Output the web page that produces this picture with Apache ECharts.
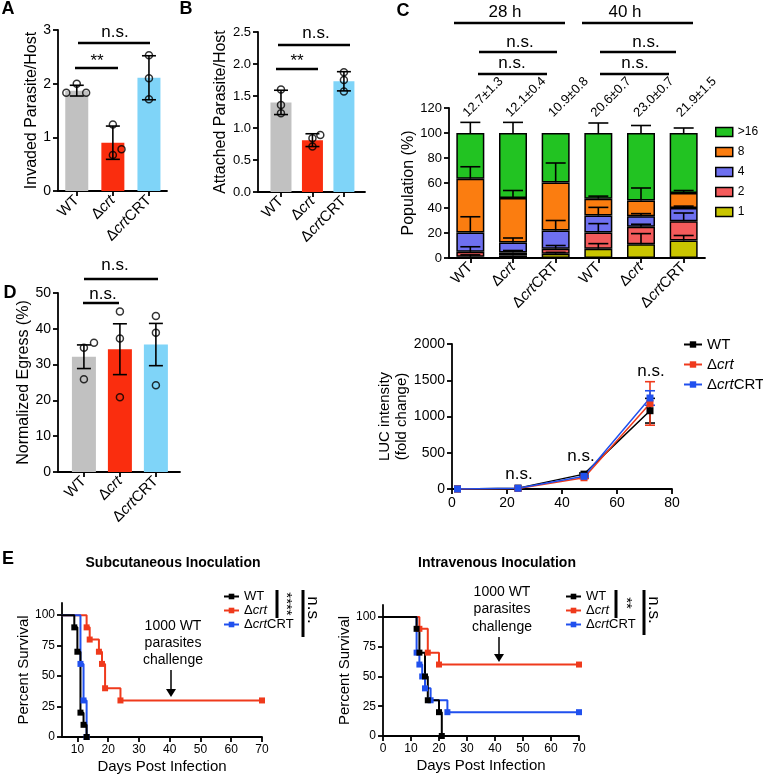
<!DOCTYPE html>
<html><head><meta charset="utf-8">
<script src="https://cdn.jsdelivr.net/npm/echarts@6/dist/echarts.min.js"></script>
<style>html,body{margin:0;padding:0;background:#fff}#c{width:763px;height:779px}</style>
</head><body><div id="c"></div><script>
const FONT = '"Liberation Sans", Arial, Helvetica, sans-serif';

// ---------------- DATA ----------------
const groups = ['WT', 'Δcrt', 'ΔcrtCRT'];
// A: invaded parasite/host
const invadedMean = [1.87, 0.90, 2.11];
const invadedSD = [0.10, 0.31, 0.41];
const invadedPts = [[1.83, 2.00, 1.83], [1.24, 0.78, 0.67], [2.53, 2.10, 1.71]];
// B: attached parasite/host
const attachedMean = [1.40, 0.81, 1.73];
const attachedSD = [0.19, 0.10, 0.15];
const attachedPts = [[1.60, 1.36, 1.23], [0.84, 0.89, 0.71], [1.87, 1.75, 1.57]];
// D: normalized egress (%)
const egressMean = [32.2, 34.3, 35.6];
const egressSEM = [3.3, 7.1, 5.9];
const egressPts = [[36.1, 34.7, 25.9], [44.8, 37.3, 20.9], [43.6, 38.9, 24.2]];
// point jitter (in category units)
const jitterA = [[-0.29, 0, 0.26], [0, 0.24, 0], [0, 0, 0]];
const jitterB = [[0, 0, 0], [0, 0.25, 0], [0, 0, 0]];
const jitterD = [[0.28, 0, 0], [0, 0, 0], [0, 0, 0]];

// C: population (%) stacked, 28 h (first 3) and 40 h (last 3)
const cCats = ['WT', 'Δcrt', 'ΔcrtCRT', 'WT', 'Δcrt', 'ΔcrtCRT'];
const cSeriesNames = ['1', '2', '4', '8', '>16'];
const pop1 = [1.0, 2.0, 3.5, 7.5, 11.0, 14.0];
const pop2 = [4.0, 2.5, 4.0, 13.0, 14.0, 15.5];
const pop4 = [15.5, 8.0, 14.5, 13.5, 8.5, 10.5];
const pop8 = [43.0, 35.5, 38.5, 13.5, 12.5, 12.0];
const pop16 = [36.5, 52.0, 39.5, 52.5, 54.0, 48.0];
const err1 = [1.5, 1.0, 1.0, 4.0, 8.5, 4.0];
const err2 = [4.0, 1.5, 2.5, 7.0, 2.0, 6.5];
const err4 = [12.5, 3.5, 8.0, 6.5, 2.0, 1.5];
const err8 = [9.5, 6.0, 15.5, 2.0, 10.0, 2.0];
const err16 = [8.5, 8.5, 0, 8.0, 6.0, 4.0];
const cLabels = ['12.7±1.3', '12.1±0.4', '10.9±0.8', '20.6±0.7', '23.0±0.7', '21.9±1.5'];

// LUC intensity (fold change)
const lucHours = [2, 24, 48, 72];
const lucWT = [1, 12, 205, 1080];
const lucCrt = [1, 8, 155, 1180];
const lucCRT = [1, 10, 175, 1255];
const lucWTErr = [0, 0, 15, 170];
const lucCrtErr = [0, 0, 10, 300];
const lucCRTErr = [0, 0, 10, 100];

// E: survival (day, percent survival)
const subWT = [[0, 100], [9, 90], [10, 70], [11, 20], [12, 10], [13, 0]];
const subCrt = [[0, 100], [13, 90], [14, 80], [17, 70], [18, 60], [19, 40], [24, 30], [70, 30]];
const subCRT = [[0, 100], [11, 60], [12, 30], [13, 0]];
const ivWT = [[0, 100], [12, 90], [13, 70], [15, 50], [16, 30], [20, 20], [21, 0]];
const ivCrt = [[0, 100], [13, 90], [16, 70], [20, 60], [70, 60]];
const ivCRT = [[0, 100], [12, 70], [13, 60], [14, 50], [15, 40], [17, 30], [23, 20], [70, 20]];
const survivalTicks = [0, 25, 50, 75, 100];
const subDayTicks = [10, 20, 30, 40, 50, 60, 70];

// ---------------- STYLE ----------------
const barColors = ['#c1c1c1', '#fa2d0e', '#7fd4f8'];
const stackColors = ['#c9c500', '#f45b5b', '#6e70f0', '#fb7d10', '#22c322'];
const lineColors = {'WT': '#000000', 'Δcrt': '#ef3a1c', 'ΔcrtCRT': '#2050ee'};

const richName = s => s.replace('crt', '{i|crt}');
const richI = fs => ({i: {fontStyle: 'italic', fontSize: fs, fontFamily: FONT, color: '#000'}});
const axisLineStyle = {color: '#000', width: 1.8};
function mkAxis(o) {
  const base = {
    axisLine: {show: true, onZero: false, lineStyle: axisLineStyle},
    axisTick: {show: true, length: 5, lineStyle: axisLineStyle},
    splitLine: {show: false},
    nameLocation: 'middle',
    nameTextStyle: {color: '#000', fontFamily: FONT, fontSize: 16},
    axisLabel: {color: '#000', fontFamily: FONT, fontSize: 14, margin: 7}
  };
  const r = Object.assign({}, base, o);
  r.axisLabel = Object.assign({}, base.axisLabel, o.axisLabel || {});
  r.axisTick = Object.assign({}, base.axisTick, o.axisTick || {});
  r.nameTextStyle = Object.assign({}, base.nameTextStyle, o.nameTextStyle || {});
  return r;
}
function groupXAxis(gi, min, max) {
  return mkAxis({gridIndex: gi, type: 'value', min: min, max: max,
    axisTick: {customValues: [0, 1, 2]},
    axisLabel: {customValues: [0, 1, 2], rotate: 45, fontSize: 15,
      formatter: v => richName(groups[Math.round(v)]), rich: richI(15)}});
}
function errorItem(cap, color, upOnly) {
  return function (params, api) {
    const x = api.value(0), lo = api.value(1), hi = api.value(2);
    if (hi === lo) return null;
    const a = api.coord([x, hi]), b = api.coord([x, lo]);
    const st = {stroke: color, lineWidth: 1.6};
    const ch = [
      {type: 'line', shape: {x1: a[0], y1: a[1], x2: b[0], y2: b[1]}, style: st},
      {type: 'line', shape: {x1: a[0] - cap, y1: a[1], x2: a[0] + cap, y2: a[1]}, style: st}];
    if (!upOnly) ch.push({type: 'line', shape: {x1: b[0] - cap, y1: b[1], x2: b[0] + cap, y2: b[1]}, style: st});
    return {type: 'group', children: ch};
  };
}
function barPanel(gi, means, errs, pts, jit, bw, cap) {
  return [
    {type: 'bar', xAxisIndex: gi, yAxisIndex: gi, barWidth: bw,
      data: means.map((m, i) => ({value: [i, m], itemStyle: {color: barColors[i]}}))},
    {type: 'custom', xAxisIndex: gi, yAxisIndex: gi, renderItem: errorItem(cap, '#000', false),
      encode: {x: 0, y: [1, 2]}, z: 3,
      data: means.map((m, i) => [i, m - errs[i], m + errs[i]])},
    {type: 'scatter', xAxisIndex: gi, yAxisIndex: gi, symbol: 'circle', symbolSize: 7, z: 4,
      itemStyle: {color: 'rgba(0,0,0,0)', borderColor: '#000', borderWidth: 1.5},
      data: pts.flatMap((arr, i) => arr.map((v, k) => [i + jit[i][k], v]))}
  ];
}

// C stacked series
const pops = [pop1, pop2, pop4, pop8, pop16];
const errs = [err1, err2, err4, err8, err16];
const cSeries = [];
const cum = [0, 0, 0, 0, 0, 0];
pops.forEach((arr, s) => {
  cSeries.push({type: 'bar', name: cSeriesNames[s], stack: 'pop', xAxisIndex: 2, yAxisIndex: 2,
    barWidth: 28, data: arr.slice(),
    itemStyle: {color: stackColors[s], borderColor: '#000', borderWidth: 1.5}});
});
const cErrData = [];
pops.forEach((arr, s) => {
  arr.forEach((v, i) => {
    cum[i] += v;
    cErrData.push([i, cum[i], cum[i] + errs[s][i]]);
  });
});
cSeries.push({type: 'custom', xAxisIndex: 2, yAxisIndex: 2, z: 5,
  renderItem: errorItem(10, '#000', true), encode: {x: 0, y: [1, 2]}, data: cErrData});
// rotated value labels above each stacked bar (anchored at the bar top through the axes)
cSeries.push({type: 'custom', xAxisIndex: 2, yAxisIndex: 2, z: 6,
  encode: {x: 0, y: 1},
  data: cum.map((top, i) => [i, top]),
  renderItem: function (params, api) {
    const p = api.coord([api.value(0), api.value(1)]);
    return {type: 'text', x: p[0] - 5, y: p[1] - 18, rotation: Math.PI / 4,
      style: {text: cLabels[params.dataIndex], fill: '#000', fontSize: 13, fontFamily: FONT,
        align: 'left', verticalAlign: 'middle', textAlign: 'left', textVerticalAlign: 'middle'}};
  }});

// LUC series
const lucSets = [['WT', lucWT, lucWTErr], ['Δcrt', lucCrt, lucCrtErr], ['ΔcrtCRT', lucCRT, lucCRTErr]];
const lucSeries = [];
lucSets.forEach(([n, vals, e]) => {
  lucSeries.push({type: 'line', name: n, xAxisIndex: 4, yAxisIndex: 4, symbol: 'rect', symbolSize: 7,
    color: lineColors[n], lineStyle: {width: 1.5, color: lineColors[n]},
    itemStyle: {color: lineColors[n]},
    data: lucHours.map((h, i) => [h, vals[i]])});
});
lucSets.forEach(([n, vals, e]) => {
  lucSeries.push({type: 'custom', xAxisIndex: 4, yAxisIndex: 4, z: 3,
    renderItem: errorItem(5, lineColors[n], false), encode: {x: 0, y: [1, 2]},
    data: lucHours.map((h, i) => [h, vals[i] - e[i], vals[i] + e[i]])});
});

// Survival series
function survSeries(gi, n, pts) {
  return {type: 'line', name: n, xAxisIndex: gi, yAxisIndex: gi, step: 'end',
    symbol: 'rect', symbolSize: 6, color: lineColors[n],
    lineStyle: {width: 2, color: lineColors[n]}, itemStyle: {color: lineColors[n]},
    data: pts.map((p, i) => i === 0 ? {value: p, symbol: 'none'} : p)};
}

// ---------------- ANNOTATIONS ----------------
const G = [];
function T(x, y, text, fs, opts) {
  opts = opts || {};
  G.push({type: 'text', x: x, y: y, rotation: opts.rot || 0, z: 100,
    style: {text: text, fill: '#000', fontSize: fs, fontFamily: FONT, fontWeight: opts.bold ? 'bold' : 'normal',
      align: 'center', verticalAlign: 'middle', textAlign: 'center', textVerticalAlign: 'middle'}});
}
function L(x1, y1, x2, y2, w) {
  G.push({type: 'line', z: 100, shape: {x1: x1, y1: y1, x2: x2, y2: y2}, style: {stroke: '#000', lineWidth: w || 2.5}});
}
function arrow(x, y1, y2) {
  L(x, y1, x, y2 - 6, 1.5);
  G.push({type: 'polygon', z: 100, shape: {points: [[x - 5, y2 - 8], [x + 5, y2 - 8], [x, y2]]}, style: {fill: '#000'}});
}
// panel letters
T(8, 9, 'A', 18, {bold: true}); T(186, 9, 'B', 18, {bold: true}); T(403, 11, 'C', 18, {bold: true});
T(10, 293, 'D', 18, {bold: true}); T(8, 559, 'E', 18, {bold: true});
// A
L(75, 68, 118, 68); T(97, 61, '**', 17); L(78, 43, 150, 43); T(115, 32, 'n.s.', 17);
// B
L(276, 69, 318, 69); T(297, 61, '**', 17); L(278, 45, 350, 45); T(316, 33, 'n.s.', 17);
// C
T(505, 12, '28 h', 17); T(625, 12, '40 h', 17);
L(454, 23, 565, 23); L(582, 23, 693, 23);
T(520, 42, 'n.s.', 17); L(479, 52, 557, 52); T(512, 63, 'n.s.', 17); L(478, 74, 547, 74);
T(646, 42, 'n.s.', 17); L(600, 52, 676, 52); T(635, 63, 'n.s.', 17); L(600, 74, 669, 74);
// D
L(84, 279, 158, 279); T(115, 265, 'n.s.', 17); L(83, 303, 119, 303); T(103, 294, 'n.s.', 17);
// LUC
T(519, 474, 'n.s.', 17); T(581, 456, 'n.s.', 17); T(651, 371, 'n.s.', 17);
// E left
T(173, 563, 'Subcutaneous Inoculation', 14, {bold: true});
T(173, 626, '1000 WT', 14); T(173, 643, 'parasites', 14); T(173, 660, 'challenge', 14);
arrow(171, 670, 697);
L(277, 590, 277, 618, 3); T(286, 604, '****', 15, {rot: -Math.PI / 2});
L(303, 590, 303, 637, 3); T(313, 610, 'n.s.', 17, {rot: -Math.PI / 2});
// E right
T(497, 563, 'Intravenous Inoculation', 14, {bold: true});
T(502, 592, '1000 WT', 14); T(502, 609, 'parasites', 14); T(502, 627, 'challenge', 14);
arrow(499, 637, 662);
L(616, 590, 616, 618, 3); T(626, 603, '**', 15, {rot: -Math.PI / 2});
L(644, 590, 644, 635, 3); T(654, 610, 'n.s.', 17, {rot: -Math.PI / 2});

// ---------------- OPTION ----------------
const legendText = fs => ({color: '#000', fontFamily: FONT, fontSize: fs, rich: richI(fs)});
const option = {
  animation: false,
  backgroundColor: '#fff',
  grid: [
    {left: 58, top: 30, width: 109, height: 161},
    {left: 258, top: 32, width: 107, height: 160},
    {left: 449, top: 108, width: 256, height: 150},
    {left: 58, top: 293, width: 122, height: 179},
    {left: 452, top: 344, width: 220, height: 145},
    {left: 62, top: 603, width: 200, height: 134},
    {left: 383, top: 605, width: 196, height: 131}
  ],
  xAxis: [
    groupXAxis(0, -0.52, 2.5),
    groupXAxis(1, -0.73, 2.67),
    mkAxis({gridIndex: 2, type: 'category', data: cCats.map((c, i) => String(i)),
      axisTick: {alignWithLabel: true},
      axisLabel: {rotate: 45, fontSize: 15, interval: 0,
        formatter: (v, i) => richName(cCats[i]), rich: richI(15)}}),
    groupXAxis(3, -0.72, 2.67),
    mkAxis({gridIndex: 4, type: 'value', min: 0, max: 80, interval: 20}),
    mkAxis({gridIndex: 5, type: 'value', min: 5, max: 70, name: 'Days Post Infection', nameGap: 22,
      nameTextStyle: {fontSize: 15},
      axisTick: {customValues: subDayTicks}, axisLabel: {customValues: subDayTicks, fontSize: 12}}),
    mkAxis({gridIndex: 6, type: 'value', min: 0, max: 70, interval: 10, name: 'Days Post Infection', nameGap: 22,
      nameTextStyle: {fontSize: 15}, axisLabel: {fontSize: 12}})
  ],
  yAxis: [
    mkAxis({gridIndex: 0, type: 'value', min: 0, max: 3, interval: 1, name: 'Invaded Parasite/Host', nameGap: 18}),
    mkAxis({gridIndex: 1, type: 'value', min: 0, max: 2.5, interval: 0.5, name: 'Attached Parasite/Host', nameGap: 26,
      axisLabel: {fontSize: 13, formatter: v => v.toFixed(1)}}),
    mkAxis({gridIndex: 2, type: 'value', min: 0, max: 120, interval: 20, name: 'Population (%)', nameGap: 31,
      axisLabel: {fontSize: 13}}),
    mkAxis({gridIndex: 3, type: 'value', min: 0, max: 50, interval: 10, name: 'Normalized Egress (%)', nameGap: 22}),
    mkAxis({gridIndex: 4, type: 'value', min: 0, max: 2000, interval: 500, name: 'LUC intensity\n(fold change)', nameGap: 40,
      nameTextStyle: {fontSize: 15, lineHeight: 17}, axisLabel: {formatter: v => String(v)}}),
    mkAxis({gridIndex: 5, type: 'value', min: 0, max: 110, name: 'Percent Survival', nameGap: 28,
      nameTextStyle: {fontSize: 15},
      axisTick: {customValues: survivalTicks}, axisLabel: {customValues: survivalTicks, fontSize: 12}}),
    mkAxis({gridIndex: 6, type: 'value', min: 0, max: 110, name: 'Percent Survival', nameGap: 30,
      nameTextStyle: {fontSize: 15},
      axisTick: {customValues: survivalTicks}, axisLabel: {customValues: survivalTicks, fontSize: 12}})
  ],
  legend: [
    {orient: 'vertical', left: 715, top: 126, padding: 0, itemGap: 8, itemWidth: 17, itemHeight: 9,
      icon: 'rect', selectedMode: false, data: ['>16', '8', '4', '2', '1'],
      itemStyle: {borderColor: '#000', borderWidth: 1.5}, textStyle: legendText(12)},
    {orient: 'vertical', left: 683, top: 337, padding: 0, itemGap: 5, itemWidth: 18, itemHeight: 8,
      selectedMode: false, data: ['WT', 'Δcrt', 'ΔcrtCRT'], formatter: richName, textStyle: legendText(15)},
    {orient: 'vertical', left: 223, top: 590, padding: 0, itemGap: 1, itemWidth: 15, itemHeight: 7,
      selectedMode: false, data: ['WT', 'Δcrt', 'ΔcrtCRT'], formatter: richName, textStyle: legendText(13)},
    {orient: 'vertical', left: 565, top: 590, padding: 0, itemGap: 1, itemWidth: 15, itemHeight: 7,
      selectedMode: false, data: ['WT', 'Δcrt', 'ΔcrtCRT'], formatter: richName, textStyle: legendText(13)}
  ],
  series: [].concat(
    barPanel(0, invadedMean, invadedSD, invadedPts, jitterA, 23, 7),
    barPanel(1, attachedMean, attachedSD, attachedPts, jitterB, 21, 7),
    barPanel(3, egressMean, egressSEM, egressPts, jitterD, 24, 7),
    cSeries,
    lucSeries,
    [survSeries(5, 'Δcrt', subCrt), survSeries(5, 'ΔcrtCRT', subCRT), survSeries(5, 'WT', subWT),
     survSeries(6, 'Δcrt', ivCrt), survSeries(6, 'ΔcrtCRT', ivCRT), survSeries(6, 'WT', ivWT)]
  ),
  graphic: G
};
const chart = echarts.init(document.getElementById('c'));
chart.setOption(option);
</script></body></html>
